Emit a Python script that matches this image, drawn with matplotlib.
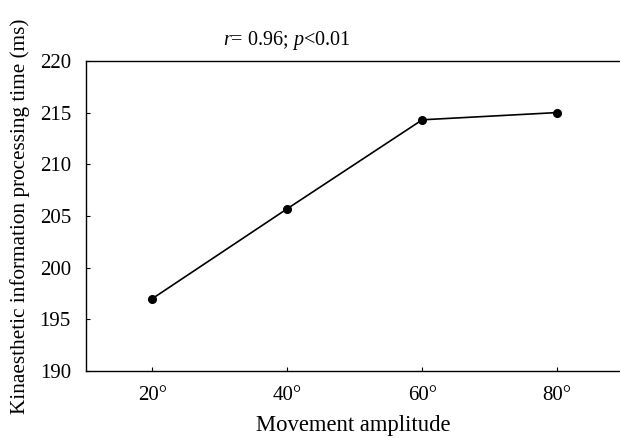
import matplotlib
matplotlib.use('Agg')
from matplotlib import pyplot as plt

# Data
amplitude = [20, 40, 60, 80]
amplitude_labels = ['20°', '40°', '60°', '80°']
proc_time = [197.0, 205.7, 214.3, 215.0]
y_ticks = [190, 195, 200, 205, 210, 215, 220]

plt.rcParams['font.family'] = ['Liberation Serif', 'DejaVu Serif']
plt.rcParams['mathtext.fontset'] = 'custom'
plt.rcParams['mathtext.rm'] = 'Liberation Serif'
plt.rcParams['mathtext.it'] = 'Liberation Serif:italic'

fig = plt.figure(figsize=(6.2, 4.38), dpi=100)
ax = fig.add_axes([0.139, 0.153, 0.861, 0.708])

ax.plot(amplitude, proc_time, color='black', linewidth=1.2,
        marker='o', markersize=5.5)

ax.set_xlim(10.2, 89.3)
ax.set_ylim(190, 220)
ax.set_xticks(amplitude)
ax.set_xticklabels(amplitude_labels)
ax.set_yticks(y_ticks)
ax.tick_params(direction='in', length=3, width=0.8, labelsize=15)
ax.tick_params(axis='y', pad=11)
ax.tick_params(axis='x', pad=11)

ax.spines['right'].set_visible(False)
for s in ['left', 'top', 'bottom']:
    ax.spines[s].set_linewidth(1.0)

ax.set_xlabel('Movement amplitude', fontsize=16.3, labelpad=7)
ax.set_ylabel('Kinaesthetic information processing time (ms)', fontsize=15.3, labelpad=7)

fig.text(287 / 620, 0.907, '$r$= 0.96; $p$<0.01', fontsize=14.5,
         ha='center', va='center')

fig.savefig('out.png', dpi=100)
